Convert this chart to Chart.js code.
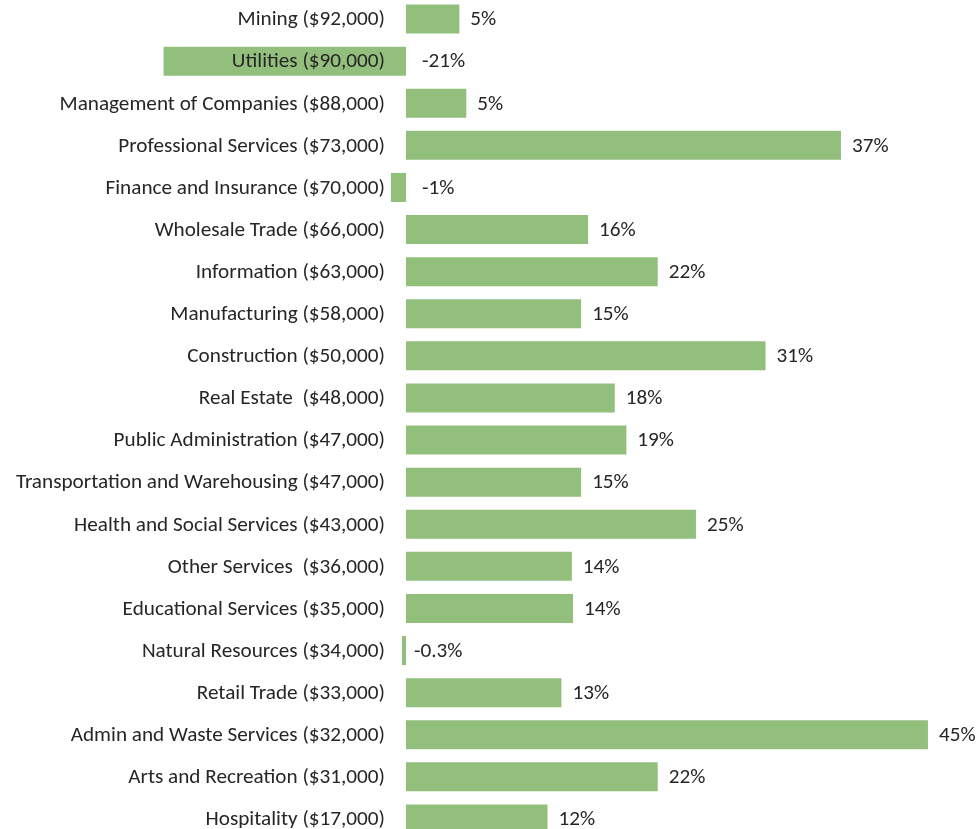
<!DOCTYPE html>
<html>
<head>
<meta charset="utf-8">
<script src="https://cdn.jsdelivr.net/npm/chart.js@4"></script>
<style>
  html, body { margin: 0; padding: 0; background: #fff; overflow: hidden; }
  #wrap { position: absolute; left: 0; top: -2px; width: 979px; height: 842px; }
</style>
</head>
<body>
<div id="wrap"><canvas id="myChart"></canvas></div>
<script>
const industries = [
    'Mining ($92,000)',
    'Utilities ($90,000)',
    'Management of Companies ($88,000)',
    'Professional Services ($73,000)',
    'Finance and Insurance ($70,000)',
    'Wholesale Trade ($66,000)',
    'Information ($63,000)',
    'Manufacturing ($58,000)',
    'Construction ($50,000)',
    'Real Estate  ($48,000)',
    'Public Administration ($47,000)',
    'Transportation and Warehousing ($47,000)',
    'Health and Social Services ($43,000)',
    'Other Services  ($36,000)',
    'Educational Services ($35,000)',
    'Natural Resources ($34,000)',
    'Retail Trade ($33,000)',
    'Admin and Waste Services ($32,000)',
    'Arts and Recreation ($31,000)',
    'Hospitality ($17,000)'
]

// growth in %
const growth = [4.6, -20.9, 5.2, 37.5, -1.3, 15.7, 21.7, 15.1, 31.0, 18.0,
    19.0, 15.1, 25.0, 14.3, 14.4, -0.35, 13.4, 45.0, 21.7, 12.2]

// the printed value labels
const growthLabels = ['5%', '-21%', '5%', '37%', '-1%', '16%', '22%', '15%', '31%', '18%',
    '19%', '15%', '25%', '14%', '14%', '-0.3%', '13%', '45%', '22%', '12%']

const fontFamily = 'Carlito, Lato, sans-serif'
const textColor = '#262626'

// draws industry names left of the zero line and value labels after the bars
const labelPlugin = {
    id: 'labelPlugin',
    afterDatasetsDraw(chart) {
        const ctx = chart.ctx
        const meta = chart.getDatasetMeta(0)
        const zero = chart.scales.x.getPixelForValue(0)
        ctx.save()
        ctx.fillStyle = textColor
        ctx.font = `21.2px ${fontFamily}`
        ctx.textBaseline = 'middle'
        meta.data.forEach((bar, i) => {
            ctx.textAlign = 'right'
            ctx.fillText(industries[i], zero - 21, bar.y + 1)
            ctx.textAlign = 'left'
            const x = growth[i] >= 0 ? bar.x + 11 : zero + (growth[i] > -1 ? 8 : 16)
            ctx.fillText(growthLabels[i], x, bar.y + 1)
        })
        ctx.restore()
    }
}

var ctx = document.getElementById('myChart').getContext('2d')
var chart = new Chart(ctx, {
    type: 'bar',
    data: {
        labels: industries,
        datasets: [{
            data: growth,
            backgroundColor: 'rgb(147, 191, 124)',
            borderWidth: 0,
            barPercentage: 0.69,
            categoryPercentage: 1
        }]
    },
    options: {
        indexAxis: 'y',
        responsive: true,
        maintainAspectRatio: false,
        animation: false,
        layout: { padding: 0 },
        plugins: {
            legend: { display: false },
            tooltip: { enabled: false }
        },
        scales: {
            x: { display: false, min: -35, max: 49.4 },
            y: { display: false }
        }
    },
    plugins: [labelPlugin]
})
</script>
</body>
</html>
